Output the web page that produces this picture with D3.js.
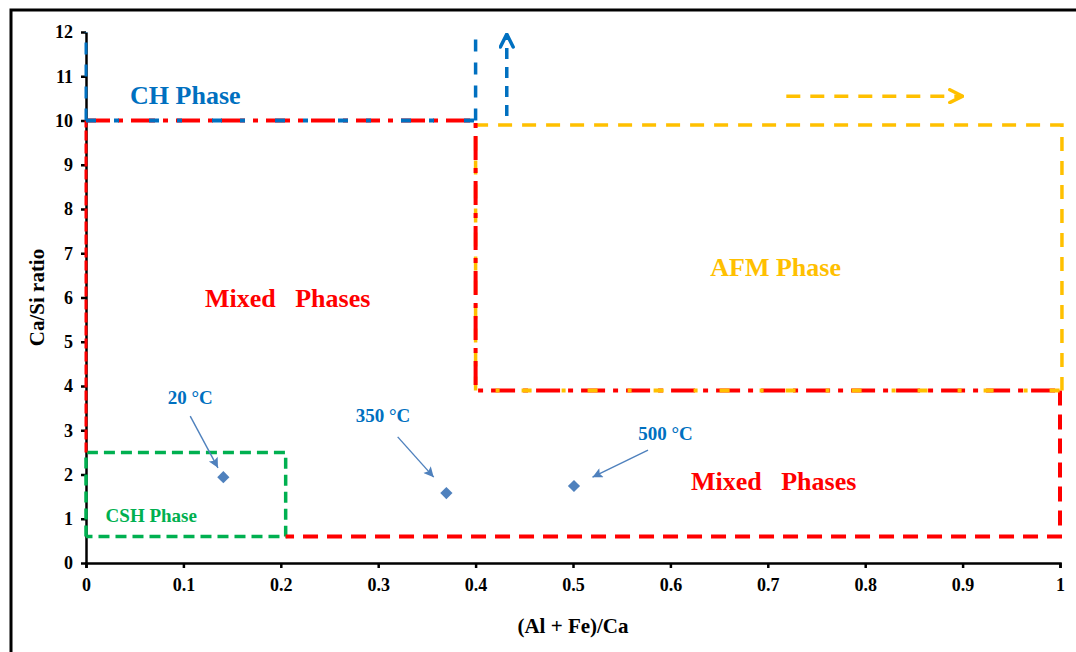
<!DOCTYPE html>
<html>
<head>
<meta charset="utf-8">
<script src="https://cdn.jsdelivr.net/npm/d3@7"></script>
<style>
  body { margin: 0; background: #fff; }
  svg text { font-family: "Liberation Serif", "Times New Roman", serif; font-weight: bold; }
</style>
</head>
<body>
<div id="root"></div>
<script>
// tick values
const xTicks = [0, 0.1, 0.2, 0.3, 0.4, 0.5, 0.6, 0.7, 0.8, 0.9, 1];
const yTicks = [0, 1, 2, 3, 4, 5, 6, 7, 8, 9, 10, 11, 12];

// measured samples
const samples = [
  { label: "20 °C",  x: 0.141, y: 1.94 },
  { label: "350 °C", x: 0.370, y: 1.58 },
  { label: "500 °C", x: 0.501, y: 1.74 }
];

// phase region boundaries (data units)
const chLeft    = [[0, 10], [0, 12]];
const chBottom  = [[0, 10], [0.4, 10]];
const chRight   = [[0.4, 10], [0.4, 11.86]];
const chArrow   = [[0.432, 10.1], [0.432, 11.95]];
const mixedTop  = [[0, 2.5], [0, 10], [0.4, 10], [0.4, 3.9], [1, 3.9]];
const mixedLow  = [[1, 3.9], [1, 0.6], [0.205, 0.6]];
const afmBox    = [[0.4, 3.9], [0.4, 9.9], [1.002, 9.9], [1.002, 3.9]];
const afmArrow  = [[0.719, 10.55], [0.9, 10.55]];
const cshBox    = [[0, 0.6], [0, 2.5], [0.205, 2.5], [0.205, 0.6], [0, 0.6]];

// annotation text & pointer lines
const regionLabels = [
  { text: "CH Phase",        x: 0.102, y: 10.58, color: "#0070C0", size: 26 },
  { text: "Mixed\u00a0\u00a0 Phases", x: 0.207, y: 5.99, color: "#FF0000", size: 26 },
  { text: "AFM Phase",       x: 0.708, y: 6.69, color: "#FFC000", size: 26 },
  { text: "Mixed\u00a0\u00a0 Phases", x: 0.706, y: 1.85, color: "#FF0000", size: 26 },
  { text: "CSH Phase",       x: 0.067, y: 1.08, color: "#00B050", size: 19 }
];
const sampleLabels = [
  { text: "20 °C",  x: 0.107, y: 3.75 },
  { text: "350 °C", x: 0.305, y: 3.34 },
  { text: "500 °C", x: 0.595, y: 2.92 }
];
const pointers = [
  [[0.107, 3.32], [0.1355, 2.15]],
  [[0.320, 2.85], [0.357, 1.94]],
  [[0.577, 2.55], [0.520, 1.94]]
];

const W = 1076, H = 652;
const margin = { top: 32, right: 16, bottom: 89, left: 86 };

const svg = d3.select('#root').append('svg')
  .attr('width', W)
  .attr('height', H);

// outer frame (only top and left edges fall inside the picture)
svg.append('rect')
  .attr('x', 11).attr('y', 10)
  .attr('width', W + 20).attr('height', H + 20)
  .attr('fill', 'none')
  .attr('stroke', '#000')
  .attr('stroke-width', 3);

const x = d3.scaleLinear().domain([0, 1]).range([margin.left, W - margin.right]);
const y = d3.scaleLinear().domain([0, 12]).range([H - margin.bottom, margin.top]);

const defs = svg.append('defs');
function addHead(id, color, w, h) {
  defs.append('marker')
    .attr('id', id)
    .attr('viewBox', '0 -5 10 10')
    .attr('refX', 9).attr('refY', 0)
    .attr('markerWidth', w).attr('markerHeight', h)
    .attr('markerUnits', 'userSpaceOnUse')
    .attr('orient', 'auto')
    .append('path')
    .attr('d', 'M1,-4L9,0L1,4')
    .attr('fill', 'none')
    .attr('stroke', color)
    .attr('stroke-width', 2.2)
    .attr('stroke-linecap', 'round');
}
addHead('blueHead', '#0070C0', 16, 16);
addHead('yellowHead', '#FFC000', 16, 16);
defs.append('marker')
  .attr('id', 'ptrHead')
  .attr('viewBox', '0 -5 10 10')
  .attr('refX', 10).attr('refY', 0)
  .attr('markerWidth', 12).attr('markerHeight', 10)
  .attr('markerUnits', 'userSpaceOnUse')
  .attr('orient', 'auto')
  .append('path')
  .attr('d', 'M0,-5L10,0L0,5L2,0Z')
  .attr('fill', '#4F81BD');

// axes
const xAxis = svg.append('g')
  .attr('transform', 'translate(0,' + y(0) + ')')
  .call(d3.axisBottom(x).tickValues(xTicks).tickSize(5).tickSizeOuter(5).tickPadding(10)
    .tickFormat(d => d === 0 || d === 1 ? String(d) : d3.format('.1f')(d)));
const yAxis = svg.append('g')
  .attr('transform', 'translate(' + x(0) + ',0)')
  .call(d3.axisLeft(y).tickValues(yTicks).tickSize(5).tickSizeOuter(0).tickPadding(8));

[xAxis, yAxis].forEach(g => {
  g.select('.domain').attr('stroke', '#000').attr('stroke-width', 2.5);
  g.selectAll('.tick line').attr('stroke', '#000').attr('stroke-width', 2.5);
  g.selectAll('.tick text')
    .attr('fill', '#000')
    .style('font-size', '18px')
    .style('font-family', '"Liberation Serif", serif')
    .style('font-weight', 'bold');
});

svg.append('text')
  .attr('transform', 'translate(44,' + y(6) + ') rotate(-90)')
  .attr('text-anchor', 'middle')
  .style('font-size', '21px')
  .text('Ca/Si ratio');

svg.append('text')
  .attr('x', x(0.5)).attr('y', 633)
  .attr('text-anchor', 'middle')
  .style('font-size', '21px')
  .text('(Al + Fe)/Ca');

const line = d3.line().x(d => x(d[0])).y(d => y(d[1]));

function boundary(pts, color, width, dash, offset, marker) {
  const p = svg.append('path')
    .attr('d', line(pts))
    .attr('fill', 'none')
    .attr('stroke', color)
    .attr('stroke-width', width)
    .attr('stroke-dasharray', dash)
    .attr('stroke-dashoffset', offset || 0);
  if (marker) p.attr('marker-end', 'url(#' + marker + ')');
  return p;
}

// CSH box
boundary(cshBox, '#00B050', 3.5, '11,6');

// mixed phase region (red) with yellow / blue overlays
boundary(mixedLow, '#FF0000', 4, '15,9');
boundary(afmBox, '#FFC000', 3.5, '14,10');
boundary(mixedTop.slice(0, 2), '#FF0000', 3, '10,3');
boundary(mixedTop.slice(1), '#FF0000', 4, '24,8,5,8', 0);
boundary(mixedTop.slice(3), '#FFC000', 4, '10,30,4,22', 20);
boundary(chBottom, '#0070C0', 4, '10,18,5,30', 0);
boundary(chLeft, '#0070C0', 3, '12,10');
boundary(chRight, '#0070C0', 3.5, '12,11');
boundary(chArrow, '#0070C0', 3.5, '11,8', 0, 'blueHead');
boundary(afmArrow, '#FFC000', 3.5, '14,10', 0, 'yellowHead');

// pointers
svg.selectAll('.pointer')
  .data(pointers)
  .enter().append('path')
  .attr('class', 'pointer')
  .attr('d', d => line(d))
  .attr('stroke', '#4F81BD')
  .attr('stroke-width', 1.4)
  .attr('fill', 'none')
  .attr('marker-end', 'url(#ptrHead)');

// sample points
svg.selectAll('.pt')
  .data(samples)
  .enter().append('path')
  .attr('class', 'pt')
  .attr('d', d3.symbol().type(d3.symbolDiamond2).size(95))
  .attr('transform', d => 'translate(' + x(d.x) + ',' + y(d.y) + ')')
  .attr('fill', '#4F81BD');

svg.selectAll('.slabel')
  .data(sampleLabels)
  .enter().append('text')
  .attr('class', 'slabel')
  .attr('x', d => x(d.x)).attr('y', d => y(d.y))
  .attr('dy', '0.35em')
  .attr('text-anchor', 'middle')
  .attr('fill', '#0070C0')
  .style('font-size', '19px')
  .text(d => d.text);

svg.selectAll('.rlabel')
  .data(regionLabels)
  .enter().append('text')
  .attr('class', 'rlabel')
  .attr('x', d => x(d.x)).attr('y', d => y(d.y))
  .attr('dy', '0.35em')
  .attr('text-anchor', 'middle')
  .attr('fill', d => d.color)
  .style('font-size', d => d.size + 'px')
  .text(d => d.text);
</script>
</body>
</html>
